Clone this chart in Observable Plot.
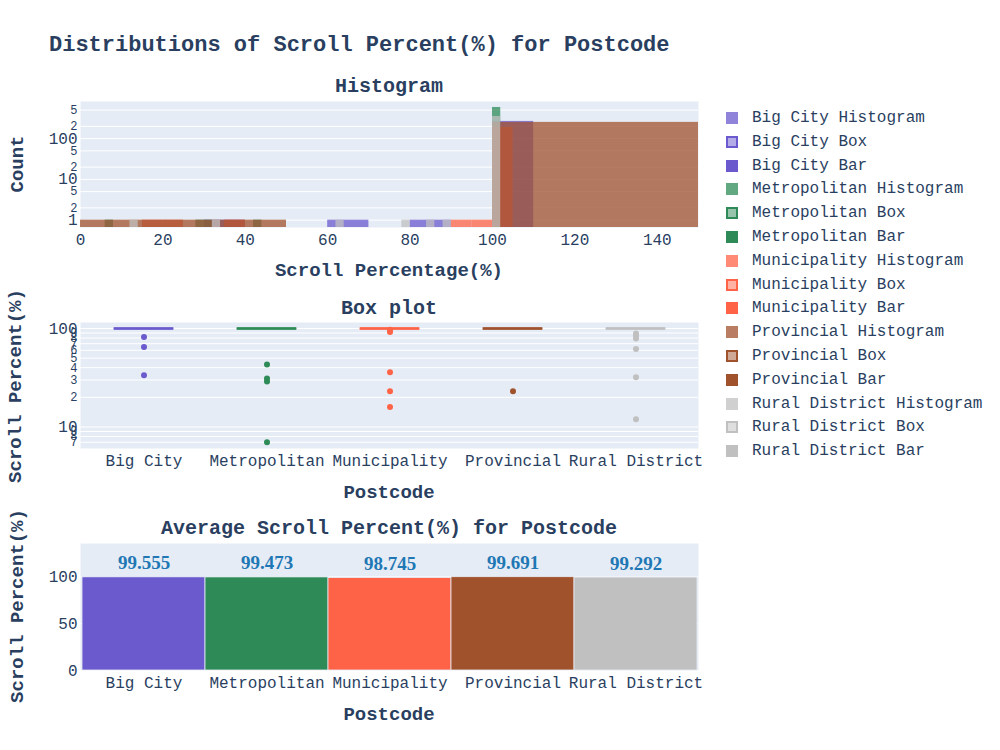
<!DOCTYPE html>
<html>
<head>
<meta charset="utf-8">
<script src="https://cdn.jsdelivr.net/npm/d3@7"></script>
<script src="https://cdn.jsdelivr.net/npm/@observablehq/plot@0.6"></script>
<style>
  body { margin: 0; background: #fff; }
  #root { position: relative; width: 1000px; height: 750px; overflow: hidden;
          font-family: "Courier New", "Liberation Mono", monospace; color: #2a3f5f; background: #fff; }
  .panel { position: absolute; left: 0; }
  #overlay { position: absolute; left: 0; top: 0; pointer-events: none; }
  .lg-item { position: absolute; left: 724px; height: 16px; display: flex; align-items: center; white-space: pre; font-size: 16px; color: #2a3f5f; }
  .lg-sw { box-sizing: border-box; width: 12px; height: 12px; margin-left: 2px; margin-right: 14px; }
</style>
</head>
<body>
<div id="root"></div>
<script>
// ---------- data ----------
const groups = ["Big City", "Metropolitan", "Municipality", "Provincial", "Rural District"];
const groupColors = ["#6a5acd", "#2e8b57", "#ff6347", "#a0522d", "#c0c0c0"];

// histogram bins per group: [bin start, bin end, count]
const histBigCity = [[30, 40, 1], [60, 70, 1], [80, 90, 1], [100, 110, 264]];
const histMetropolitan = [[6, 8, 1], [28, 30, 1], [30, 32, 1], [42, 44, 1], [100, 102, 580]];
const histMunicipality = [[15, 20, 1], [20, 25, 1], [35, 40, 1], [90, 95, 1], [95, 100, 1], [100, 105, 189]];
const histProvincial = [[0, 50, 1], [100, 150, 250]];
const histRuralDistrict = [[12, 14, 1], [32, 34, 1], [62, 64, 1], [78, 80, 1], [84, 86, 1], [88, 90, 1], [100, 102, 350]];
const histXTicks = [0, 20, 40, 60, 80, 100, 120, 140];
const histYTicks = [1, 2, 5, 10, 20, 50, 100, 200, 500];

// box plot: quartiles (collapsed at 100) and outliers
const boxQ1 = [100, 100, 100, 100, 100];
const boxMedian = [100, 100, 100, 100, 100];
const boxQ3 = [100, 100, 100, 100, 100];
const outBigCity = [33.5, 65, 82];
const outMetropolitan = [7, 29, 31, 43];
const outMunicipality = [16, 23, 36, 92, 97];
const outProvincial = [23];
const outRuralDistrict = [12, 32, 62, 79, 85, 89];
const boxYTicks = [7, 8, 9, 10, 20, 30, 40, 50, 60, 70, 80, 90, 100];

// average scroll percent
const avgScroll = [99.555, 99.473, 98.745, 99.691, 99.292];
const barYTicks = [0, 50, 100];

// ---------- tables ----------
const histAll = [histBigCity, histMetropolitan, histMunicipality, histProvincial, histRuralDistrict];
const histRows = histAll.flatMap((bins, i) => bins.map(([a, b, n]) => ({group: groups[i], a, b, n})));
const outAll = [outBigCity, outMetropolitan, outMunicipality, outProvincial, outRuralDistrict];
const outRows = outAll.flatMap((vals, i) => vals.map(v => ({group: groups[i], v})));
const boxRows = groups.map((g, i) => ({group: g, q1: boxQ1[i], med: boxMedian[i], q3: boxQ3[i]}));
const barRows = groups.map((g, i) => ({group: g, avg: avgScroll[i]}));

// ---------- style ----------
const FONT = '"Courier New", "Liberation Mono", monospace';
const INK = "#2a3f5f";
const BG = "#e5ecf6";
const W = 1000, ML = 80, MR = 302;
const colorScale = {domain: groups, range: groupColors};
const svgStyle = {fontFamily: FONT, fontSize: "16px", color: INK, background: "transparent", overflow: "visible"};
const isDecade = d => Math.abs(Math.log10(d) - Math.round(Math.log10(d))) < 1e-9;
const logFmt = d => isDecade(d) ? String(d) : String(d).charAt(0);
const logSize = d => isDecade(d) ? 16 : 12;

// y tick labels for log axes, drawn as text marks in the left margin
const logLabels = ticks => Plot.text(ticks, {y: d => d, text: logFmt, fontSize: logSize,
  frameAnchor: "left", textAnchor: "end", dx: -3, fill: INK});
const gridLines = ticks => Plot.ruleY(ticks, {stroke: "#fff", strokeWidth: 1});

const root = document.getElementById("root");
function place(svg, top) {
  svg.classList.add("panel");
  svg.style.position = "absolute";
  svg.style.top = top + "px";
  svg.style.left = "0px";
  root.appendChild(svg);
}

// ---------- histogram ----------
const histYDomain = [0.66, 813];
const hist = Plot.plot({
  width: W, height: 167, marginLeft: ML, marginRight: MR, marginTop: 11, marginBottom: 30,
  style: svgStyle,
  x: {domain: [0, 150]},
  y: {type: "log", domain: histYDomain, axis: null},
  color: colorScale,
  marks: [
    Plot.frame({fill: BG, stroke: null}),
    gridLines(histYTicks),
    Plot.rect(histRows, {x1: "a", x2: "b", y1: () => histYDomain[0], y2: "n", fill: "group", fillOpacity: 0.75}),
    Plot.axisX({ticks: histXTicks, tickSize: 0, tickPadding: 6, label: null}),
    logLabels(histYTicks)
  ]
});
place(hist, 90);

// ---------- box plot ----------
const box = Plot.plot({
  width: W, height: 167, marginLeft: ML, marginRight: MR, marginTop: 11, marginBottom: 30,
  style: svgStyle,
  x: {type: "band", domain: groups, padding: 0},
  y: {type: "log", domain: [6.05, 115], axis: null},
  color: colorScale,
  marks: [
    Plot.frame({fill: BG, stroke: null}),
    gridLines(boxYTicks),
    Plot.tickY(boxRows, {x: "group", y: "q1", stroke: "group", strokeWidth: 2, insetLeft: 31.8, insetRight: 31.8}),
    Plot.tickY(boxRows, {x: "group", y: "med", stroke: "group", strokeWidth: 2, insetLeft: 31.8, insetRight: 31.8}),
    Plot.tickY(boxRows, {x: "group", y: "q3", stroke: "group", strokeWidth: 2, insetLeft: 31.8, insetRight: 31.8}),
    Plot.dot(outRows, {x: "group", y: "v", fill: "group", r: 3, stroke: null}),
    Plot.axisX({tickSize: 0, tickPadding: 6, label: null}),
    logLabels(boxYTicks)
  ]
});
place(box, 311);

// ---------- bar chart ----------
const bar = Plot.plot({
  width: W, height: 168, marginLeft: ML, marginRight: MR, marginTop: 11, marginBottom: 30,
  style: svgStyle,
  x: {type: "band", domain: groups, padding: 0},
  y: {domain: [0, 135.7]},
  color: colorScale,
  marks: [
    Plot.frame({fill: BG, stroke: null}),
    gridLines(barYTicks),
    Plot.barY(barRows, {x: "group", y: "avg", fill: "group", stroke: BG, strokeWidth: 0.8}),
    Plot.text(barRows, {x: "group", y: "avg", text: d => d.avg.toFixed(3), dy: -14, fill: "#1f77b4",
      fontFamily: '"Times New Roman", "Liberation Serif", serif', fontWeight: "bold", fontSize: 19}),
    Plot.axisX({tickSize: 0, tickPadding: 6, label: null}),
    Plot.axisY({ticks: barYTicks, tickSize: 0, tickPadding: 3, label: null})
  ]
});
place(bar, 532);

// ---------- titles (overlay) ----------
const ns = "http://www.w3.org/2000/svg";
const ov = document.createElementNS(ns, "svg");
ov.setAttribute("id", "overlay");
ov.setAttribute("width", W); ov.setAttribute("height", 750);
ov.setAttribute("font-family", FONT);
ov.setAttribute("fill", INK);
function addText(txt, x, y, size, anchor, rotate) {
  const t = document.createElementNS(ns, "text");
  t.textContent = txt;
  t.setAttribute("font-size", size);
  t.setAttribute("font-weight", "bold");
  t.setAttribute("text-anchor", anchor);
  t.setAttribute("style", "white-space:pre");
  if (rotate) t.setAttribute("transform", `translate(${x},${y}) rotate(-90)`);
  else { t.setAttribute("x", x); t.setAttribute("y", y); }
  ov.appendChild(t);
}
const cx = (ML + (W - MR)) / 2;
addText("Distributions of Scroll Percent(%) for Postcode", 49, 51, 22, "start");
addText("Histogram", cx, 92, 20, "middle");
addText("Box plot", cx, 314, 20, "middle");
addText("Average Scroll Percent(%) for Postcode", cx, 534, 20, "middle");
addText("Scroll Percentage(%)", cx, 276, 19, "middle");
addText("Postcode", cx, 498, 19, "middle");
addText("Postcode", cx, 720, 19, "middle");
addText("Count", 23, 164, 19, "middle", true);
addText("Scroll Percent(%)", 21, 386, 19, "middle", true);
addText("Scroll Percent(%)", 23, 606, 19, "middle", true);
root.appendChild(ov);

// ---------- legend ----------
const kinds = ["Histogram", "Box", "Bar"];
function rgba(hex, a) {
  const c = d3.color(hex); c.opacity = a; return c.formatRgb();
}
let k = 0;
groups.forEach((g, i) => {
  kinds.forEach(kind => {
    const item = document.createElement("div");
    item.className = "lg-item";
    item.style.top = (110 + k * 23.8) + "px";
    const sw = document.createElement("div");
    sw.className = "lg-sw";
    if (kind === "Histogram") sw.style.background = rgba(groupColors[i], 0.75);
    else if (kind === "Box") { sw.style.background = rgba(groupColors[i], 0.5); sw.style.border = `2px solid ${groupColors[i]}`; }
    else sw.style.background = groupColors[i];
    const lab = document.createElement("span");
    lab.textContent = `${g} ${kind}`;
    item.appendChild(sw); item.appendChild(lab);
    root.appendChild(item);
    k++;
  });
});
</script>
</body>
</html>
